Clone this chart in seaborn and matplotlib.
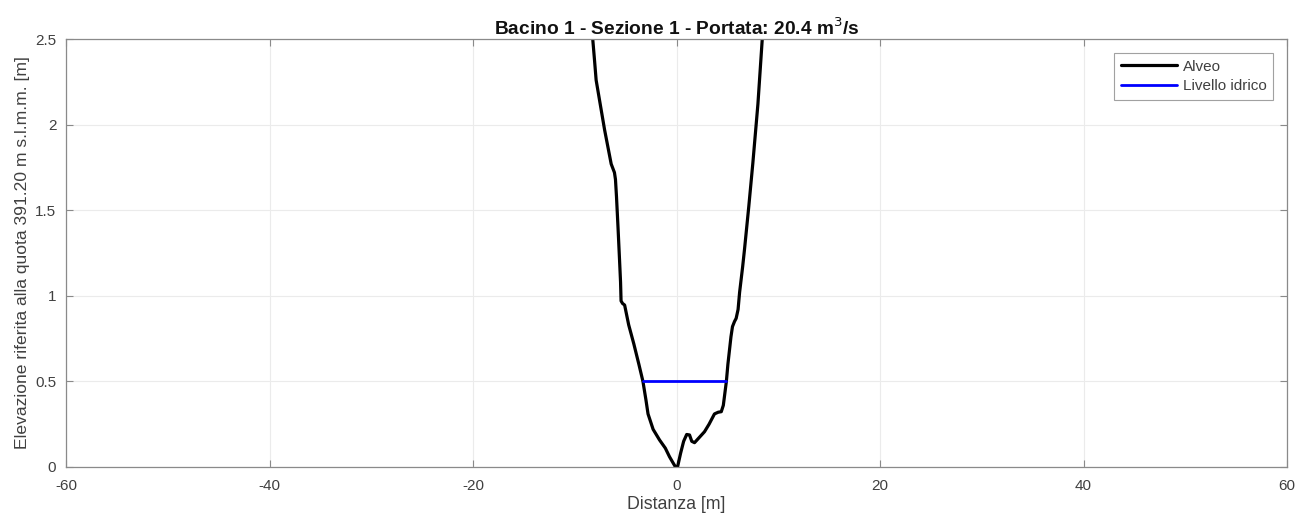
import matplotlib
matplotlib.use("Agg")
import matplotlib.pyplot as plt
import seaborn as sns
import pandas as pd

# Bed profile (Alveo)
bed_x = [-8.35, -8.22, -8.05, -7.9, -7.5, -7.07, -6.42, -6.1, -6.0, -5.9, -5.75, -5.6,
         -5.5, -5.45, -5.3, -5.1, -4.7, -4.2, -3.7, -3.3, -3.0, -2.8, -2.3, -1.67, -1.1,
         -0.69, -0.3, -0.1, 0.1, 0.4, 0.7, 1.0, 1.28, 1.5, 1.77, 2.2, 2.75, 3.2, 3.73,
         4.1, 4.4, 4.6, 4.75, 4.9, 5.05, 5.2, 5.35, 5.5, 5.7, 5.86, 6.05, 6.2, 6.5, 6.68,
         7.1, 7.5, 8.0, 8.42, 8.5]
bed_y = [2.6, 2.49, 2.37, 2.26, 2.12, 1.97, 1.77, 1.72, 1.68, 1.58, 1.4, 1.21,
         1.08, 0.97, 0.955, 0.946, 0.83, 0.72, 0.6, 0.5, 0.39, 0.31, 0.22, 0.158, 0.11,
         0.06, 0.02, 0.0, 0.0, 0.08, 0.15, 0.19, 0.187, 0.15, 0.142, 0.17, 0.206, 0.25, 0.31,
         0.32, 0.323, 0.36, 0.43, 0.5, 0.6, 0.68, 0.76, 0.82, 0.85, 0.868, 0.92, 1.02, 1.17, 1.27,
         1.52, 1.774, 2.12, 2.494, 2.6]
# Water level (Livello idrico)
water_x = [-3.3, 4.9]
water_y = [0.5, 0.5]

x_ticks = [-60, -40, -20, 0, 20, 40, 60]
y_ticks = [0, 0.5, 1, 1.5, 2, 2.5]
y_tick_labels = ["0", "0.5", "1", "1.5", "2", "2.5"]

sns.set_style("white")
plt.rcParams['font.family'] = ['Liberation Sans', 'DejaVu Sans']

fig = plt.figure(figsize=(12.97, 5.23), dpi=100)
ax = fig.add_axes([0.0509, 0.1071, 0.9414, 0.8183])

bed = pd.DataFrame({"x": bed_x, "y": bed_y})
water = pd.DataFrame({"x": water_x, "y": water_y})
sns.lineplot(data=bed, x="x", y="y", sort=False, color="black", linewidth=2.3,
             ax=ax, label="Alveo")
sns.lineplot(data=water, x="x", y="y", sort=False, color="#0000ff", linewidth=2.0,
             ax=ax, label="Livello idrico")

ax.set_xlim(-60, 60)
ax.set_ylim(0, 2.5)
ax.set_xticks(x_ticks)
ax.set_xticklabels([str(t) for t in x_ticks])
ax.set_yticks(y_ticks)
ax.set_yticklabels(y_tick_labels)

ax.grid(True, color="#ebebeb", linewidth=0.8)
ax.set_axisbelow(True)
for s in ax.spines.values():
    s.set_color("#8a8a8a")
    s.set_linewidth(0.9)
ax.tick_params(direction="in", length=5, width=0.8, color="#8a8a8a",
               labelsize=11, labelcolor="#404040", top=True, right=True,
               bottom=True, left=True)
ax.tick_params(axis="x", pad=9)
ax.tick_params(axis="y", pad=7)

ax.set_xlabel("Distanza [m]", fontsize=12.8, color="#404040", labelpad=2)
ax.set_ylabel("Elevazione riferita alla quota 391.20 m s.l.m.m. [m]", fontsize=12.6,
              color="#404040", labelpad=4)
ax.set_title("Bacino 1 - Sezione 1 - Portata: 20.4 m$^3$/s", fontsize=13.8,
             fontweight="bold", color="#111111", pad=3)

leg = ax.legend(loc="upper right", fontsize=11, frameon=True, fancybox=False,
                edgecolor="#8a8a8a", handlelength=3.7, handletextpad=0.35,
                borderpad=0.45, labelspacing=0.35, borderaxespad=0.9)
leg.get_frame().set_linewidth(0.8)
for t in leg.get_texts():
    t.set_color("#404040")

fig.savefig("out.png", dpi=100)
